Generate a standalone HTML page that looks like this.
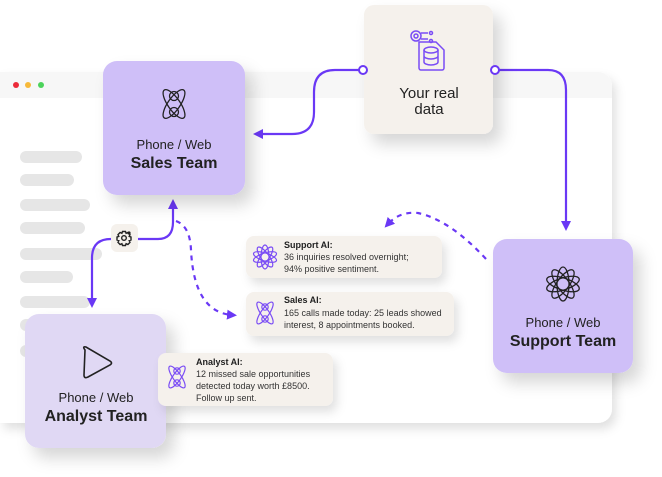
<!DOCTYPE html>
<html><head><meta charset="utf-8"><style>
html,body{margin:0;padding:0;background:#fff;}
body{width:662px;height:477px;overflow:hidden;position:relative;font-family:"Liberation Sans",sans-serif;}
</style></head><body>
<svg width="662" height="477" viewBox="0 0 662 477" style="position:absolute;left:0;top:0">
<defs>
<filter id="sh" x="-30%" y="-30%" width="170%" height="170%"><feDropShadow dx="8" dy="10" stdDeviation="8" flood-color="#000" flood-opacity="0.16"/></filter>
<filter id="sh2" x="-20%" y="-30%" width="140%" height="170%"><feDropShadow dx="4" dy="6" stdDeviation="5" flood-color="#000" flood-opacity="0.12"/></filter>
<marker id="ah" markerWidth="10" markerHeight="10" refX="5" refY="5" orient="auto" markerUnits="userSpaceOnUse"><path d="M0,0 L10,5 L0,10 Z" fill="#6a38f5"/></marker>
</defs>
<g filter="url(#sh2)"><path d="M0,72 H598 a14,14 0 0 1 14,14 V409 a14,14 0 0 1 -14,14 H0 Z" fill="#fff"/></g>
<path d="M0,72 H598 a14,14 0 0 1 14,14 V98 H0 Z" fill="#f7f7f7"/>
<circle cx="16" cy="85" r="3" fill="#ec2b3a"/><circle cx="28" cy="85" r="3" fill="#f7b93a"/><circle cx="41" cy="85" r="3" fill="#4cd35b"/>
<g fill="#e6e6e6">
<rect x="20" y="151" width="62" height="12" rx="6"/><rect x="20" y="174" width="54" height="12" rx="6"/>
<rect x="20" y="199" width="70" height="12" rx="6"/><rect x="20" y="222" width="65" height="12" rx="6"/>
<rect x="20" y="248" width="82" height="12" rx="6"/><rect x="20" y="271" width="53" height="12" rx="6"/>
<rect x="20" y="296" width="70" height="12" rx="6"/><rect x="20" y="319" width="60" height="12" rx="6"/>
<rect x="20" y="345" width="60" height="12" rx="6"/>
</g>
<g fill="none" stroke="#6a38f5" stroke-width="2.2">
<path d="M360,70 H335 Q314,70 314,92 V112 Q314,134 292,134 H258" marker-end="url(#ah)"/>
<path d="M498,70 H548 Q566,70 566,90 V226" marker-end="url(#ah)"/>
<path d="M138,239 H158 Q173,239 173,222 V204" marker-end="url(#ah)"/>
<path d="M111,239 Q92,239 92,258 V303" marker-end="url(#ah)"/>
<path d="M176,221 Q190,226 191,250 Q194,312 232,315" stroke-dasharray="5,5" marker-end="url(#ah)"/>
<path d="M486,259 Q450,220 418,213 Q400,211 388,224" stroke-dasharray="5,5" marker-end="url(#ah)"/>
</g>
<rect x="103" y="61" width="142" height="134" rx="14" fill="#cfbff8" filter="url(#sh)"/>
<rect x="364" y="5" width="129" height="129" rx="10" fill="#f5f1ec" filter="url(#sh)"/>
<rect x="493" y="239" width="140" height="134" rx="14" fill="#cfbff8" filter="url(#sh)"/>
<rect x="25" y="314" width="141" height="134" rx="14" fill="#e0d8f4" filter="url(#sh)"/>
<circle cx="363" cy="70" r="4" fill="#fff" stroke="#6a38f5" stroke-width="2"/>
<circle cx="495" cy="70" r="4" fill="#fff" stroke="#6a38f5" stroke-width="2"/>
<rect x="111" y="224" width="27" height="28" rx="6" fill="#f5f1ec"/>
<g transform="translate(124,238)" fill="none" stroke="#222" stroke-width="1.4">
<circle r="2.3"/>
<path d="M-1.5,-6.5 h3 l0.6,1.8 l1.8,-0.8 l2.1,2.1 l-0.8,1.8 l1.8,0.6 v3 l-1.8,0.6 l0.8,1.8 l-2.1,2.1 l-1.8,-0.8 l-0.6,1.8 h-3 l-0.6,-1.8 l-1.8,0.8 l-2.1,-2.1 l0.8,-1.8 l-1.8,-0.6 v-3 l1.8,-0.6 l-0.8,-1.8 l2.1,-2.1 l1.8,0.8 Z"/>
</g>
<circle cx="129" cy="233" r="1.6" fill="#222"/>
<rect x="246" y="236" width="196" height="42" rx="8" fill="#f5f1ec" filter="url(#sh2)"/>
<rect x="246" y="292" width="208" height="44" rx="8" fill="#f5f1ec" filter="url(#sh2)"/>
<rect x="158" y="353" width="175" height="53" rx="8" fill="#f5f1ec" filter="url(#sh2)"/>
<g fill="none" stroke="#222" stroke-width="1.3">
<g transform="translate(174,104)"><ellipse rx="6" ry="17" transform="rotate(-35)"/><ellipse rx="6" ry="17" transform="rotate(35)"/><circle cy="-8" r="4.5"/><circle cy="8" r="4.5"/></g>
<g transform="translate(563,284)"><ellipse rx="6" ry="17"/><ellipse rx="6" ry="17" transform="rotate(36)"/><ellipse rx="6" ry="17" transform="rotate(72)"/><ellipse rx="6" ry="17" transform="rotate(108)"/><ellipse rx="6" ry="17" transform="rotate(144)"/></g>
<path d="M85,350 Q82,346 86,347 L110,361 Q113,363 110,365 L88,377 Q84,379 84,375 Z" stroke-width="1.6"/>
</g>
<g fill="none" stroke="#7a4cf5" stroke-width="1.2">
<g transform="translate(265,257)"><ellipse rx="4" ry="12"/><ellipse rx="4" ry="12" transform="rotate(36)"/><ellipse rx="4" ry="12" transform="rotate(72)"/><ellipse rx="4" ry="12" transform="rotate(108)"/><ellipse rx="4" ry="12" transform="rotate(144)"/></g>
<g transform="translate(265,313)"><ellipse rx="4" ry="13" transform="rotate(-35)"/><ellipse rx="4" ry="13" transform="rotate(35)"/><circle cy="-6" r="3.2"/><circle cy="6" r="3.2"/></g>
<g transform="translate(177,377)"><ellipse rx="4" ry="13" transform="rotate(-35)"/><ellipse rx="4" ry="13" transform="rotate(35)"/><circle cy="-6" r="3.2"/><circle cy="6" r="3.2"/></g>
<g stroke-width="1.5">
<path d="M419,42 h17 l8,8 v18 a2,2 0 0 1 -2,2 h-21 a2,2 0 0 1 -2,-2 Z"/>
<ellipse cx="431" cy="50" rx="7" ry="3"/><path d="M424,50 v12 a7,3 0 0 0 14,0 v-12 M424,56 a7,3 0 0 0 14,0"/>
<circle cx="416" cy="36" r="5"/><circle cx="416" cy="36" r="2"/>
<path d="M421,33 h7 M421,39 h7"/><circle cx="431" cy="33" r="1.5"/><circle cx="431" cy="41" r="1.5"/>
</g>
</g>
<g fill="#222" text-anchor="middle">
<text x="174" y="149" font-size="13">Phone / Web</text>
<text x="174" y="168" font-size="16" font-weight="bold">Sales Team</text>
<text x="429" y="98" font-size="15">Your real</text>
<text x="429" y="114" font-size="15">data</text>
<text x="563" y="327" font-size="13">Phone / Web</text>
<text x="563" y="346" font-size="16" font-weight="bold">Support Team</text>
<text x="96" y="402" font-size="13">Phone / Web</text>
<text x="96" y="421" font-size="16" font-weight="bold">Analyst Team</text>
</g>
<g fill="#333" font-size="9">
<text x="284" y="248" font-weight="bold" fill="#222">Support AI:</text>
<text x="284" y="260">36 inquiries resolved overnight;</text>
<text x="284" y="272">94% positive sentiment.</text>
<text x="284" y="303" font-weight="bold" fill="#222">Sales AI:</text>
<text x="284" y="316">165 calls made today: 25 leads showed</text>
<text x="284" y="328">interest, 8 appointments booked.</text>
<text x="196" y="365" font-weight="bold" fill="#222">Analyst AI:</text>
<text x="196" y="377">12 missed sale opportunities</text>
<text x="196" y="389">detected today worth £8500.</text>
<text x="196" y="401">Follow up sent.</text>
</g>
</svg>
</body></html>
